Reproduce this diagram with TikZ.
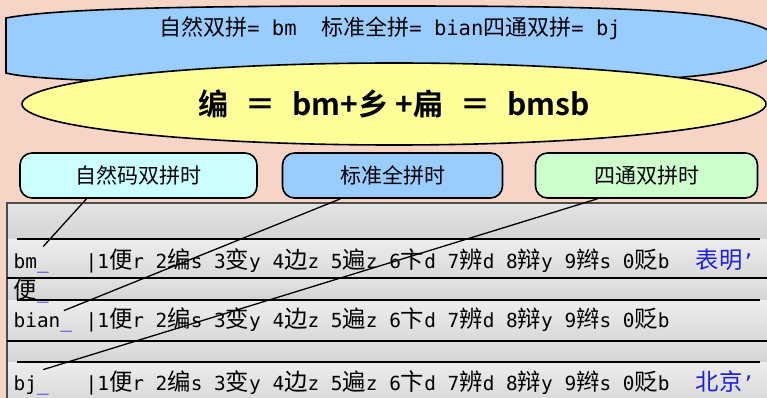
\documentclass[tikz,border=0pt]{standalone}
\usepackage{fontspec}
\usetikzlibrary{shapes.geometric}

\newfontfamily\hzfont{Noto Sans CJK SC}[BoldFont={Noto Sans CJK SC Bold}]
\newfontfamily\hzrow{Noto Sans CJK SC}[Scale=1.204]
\newfontfamily\ttrow{DejaVu Sans Mono}

\definecolor{bgpink}{RGB}{246,212,198}
\definecolor{skyblue}{RGB}{153,204,255}
\definecolor{paleyellow}{RGB}{255,255,153}
\definecolor{palecyan}{RGB}{204,255,255}
\definecolor{palegreen}{RGB}{204,255,204}
\definecolor{imeblue}{RGB}{30,30,230}

\newcommand{\hz}[1]{{\hzrow #1}}
\newcommand{\hzt}[1]{{\hzfont\fontsize{22}{24}\selectfont #1}}
\newcommand{\candlist}{|1\hz{便}r 2\hz{编}s 3\hz{变}y 4\hz{边}z 5\hz{遍}z 6\hz{卞}d 7\hz{辨}d 8\hz{辩}y 9\hz{辫}s 0\hz{贬}b}

\begin{document}
\begin{tikzpicture}[
        x = 1pt, y = -1pt, % one unit per pixel, y runs down
        node distance = 254pt, % distance between mode boxes
        line width = 1.3pt % line style
    ]

    \tikzstyle{modebox}=[
        draw = black,
        line width = 1.6pt,
        rounded corners = 12pt,
        minimum height = 45pt,
        font = \hzfont\fontsize{21}{24}\selectfont
    ]
    \tikzstyle{imeline}=[
        anchor = base west,
        inner sep = 0pt,
        font = \ttrow\fontsize{19.4}{22}\selectfont
    ]
    \tikzstyle{grayband}=[top color = gray!22, middle color = gray!48, bottom color = gray!34]
    \tikzstyle{candrow}=[top color = gray!14, middle color = white, bottom color = gray!30]

    \useasboundingbox (0,0) rectangle (767,398);
    \fill[bgpink] (0,0) rectangle (767,398);

    % top rule shape
    \draw[line width = 1.6pt, fill = skyblue] (6,73) -- (6,18) .. controls (60,8) and (200,6) .. (390,6)
        .. controls (640,6) and (775,10) .. (782,45)
        .. controls (775,80) and (640,84) .. (390,84)
        .. controls (200,84) and (40,82) .. (6,73) -- cycle;
    \node[font = \ttrow\fontsize{20.5}{22}\selectfont] (rule) at (390,28)
        {\hzt{自然双拼}= bm~~\hzt{标准全拼}= bian\hzt{四通双拼}= bj};

    \node[ellipse, draw = black, line width = 1.6pt, fill = paleyellow,
          minimum width = 744pt, minimum height = 82pt,
          font = \hzfont\bfseries\fontsize{30}{34}\selectfont] (formula) at (394,104)
        {编\hspace{17pt}＝\hspace{17pt}bm+乡 +扁\hspace{17pt}＝\hspace{17pt}bmsb};

    \node[modebox, fill = palecyan, minimum width = 237pt] (ziran) at (138.5,175.5) {自然码双拼时};
    \node[modebox, fill = skyblue, minimum width = 220pt] (biaozhun) [right of = ziran] {标准全拼时};
    \node[modebox, fill = palegreen, minimum width = 222pt] (sitong) [right of = biaozhun] {四通双拼时};

    % input method panel
    \fill[grayband] (8,204) rectangle (775,239);
    \fill[candrow] (8,239) rectangle (775,278);
    \fill[grayband] (8,278) rectangle (775,300);
    \fill[candrow] (8,300) rectangle (775,341);
    \fill[grayband] (8,341) rectangle (775,362);
    \fill[candrow] (8,362) rectangle (775,400);
    \draw[gray!60!black] (7,203) rectangle (775,400);
    \draw (17,239) -- (760,239);
    \draw (7,278) -- (775,278);
    \draw (17,300) -- (760,300);
    \draw (7,341) -- (775,341);
    \draw (17,362) -- (760,362);

    \node[imeline] (bm) at (13,268) {bm\textcolor{imeblue}{\_}};
    \node[imeline] (listA) at (85,268) {\candlist};
    \node[imeline, text = imeblue] (wordA) at (695,268) {\hz{表明}’};
    \node[imeline] (pick) at (13,298) {\hz{便}\textcolor{imeblue}{\_}};
    \node[imeline] (bian) at (13,327) {bian\textcolor{imeblue}{\_}};
    \node[imeline] (listB) at (85,327) {\candlist};
    \node[imeline] (bj) at (13,390) {bj\textcolor{imeblue}{\_}};
    \node[imeline] (listC) at (85,390) {\candlist};
    \node[imeline, text = imeblue] (wordC) at (695,390) {\hz{北京}’};

    \draw ([xshift=-52pt]ziran.south) -- ([xshift=12pt,yshift=6pt]bm.north);
    \draw ([xshift=-52pt]biaozhun.south) -- ([xshift=21pt,yshift=1pt]bian.north);
    \draw ([xshift=-49pt]sitong.south) -- ([xshift=12pt,yshift=5pt]bj.north);

\end{tikzpicture}
\end{document}
